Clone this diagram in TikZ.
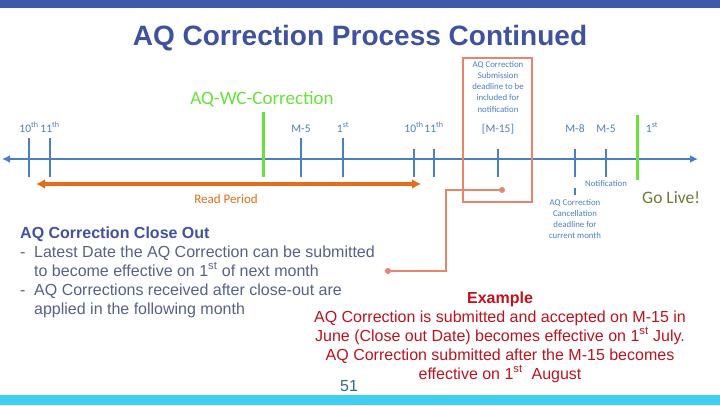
\documentclass[tikz,border=0pt]{standalone}
\usepackage{fontspec}
\setmainfont{Liberation Sans}
\newfontfamily\tlfont{Carlito}
\usetikzlibrary{positioning, arrows.meta}

\definecolor{barblue}{HTML}{3F5AA8}
\definecolor{titleblue}{HTML}{3F52A0}
\definecolor{lineblue}{HTML}{4A7EC8}
\definecolor{wcgreen}{HTML}{66E23A}
\definecolor{readorange}{HTML}{E46C1A}
\definecolor{boxcoral}{HTML}{E8856A}
\definecolor{golive}{HTML}{6E7A32}
\definecolor{bodygrey}{HTML}{55618A}
\definecolor{exred}{HTML}{C0121C}
\definecolor{pagenum}{HTML}{2F6A8A}
\definecolor{cyanbar}{HTML}{40CFF0}

\tikzset{
  tline/.style={draw=lineblue, line width=2.5pt},
  tick/.style={draw=lineblue, line width=2.5pt},
  golivebar/.style={draw=wcgreen, line width=3pt},
  ticklabel/.style={text=lineblue, font=\tlfont\fontsize{11.5}{12}\selectfont, anchor=base, inner sep=0pt},
  smallnote/.style={text=lineblue, font=\tlfont\fontsize{8.8}{11.2}\selectfont, align=center, inner sep=0pt},
  dot/.style={circle, fill=boxcoral, inner sep=0pt, minimum size=6pt},
  conn/.style={draw=boxcoral, line width=1.5pt},
  bodytext/.style={text=bodygrey, font=\fontsize{16}{19}\selectfont, align=left, inner sep=0pt, anchor=base west},
}

\begin{document}
\begin{tikzpicture}[x=1pt, y=-1pt]
    \useasboundingbox (0,0) rectangle (720,405);
    % Balken oben und unten
    \fill[barblue] (0,0) rectangle (720,8);
    \fill[cyanbar] (0,395) rectangle (720,405);

    % Titel
    \node[text=titleblue, font=\bfseries\fontsize{28}{30}\selectfont, anchor=base, inner sep=0pt]
        (title) at (360,45) {AQ Correction Process Continued};

    % Zeitachse
    \draw[tline, {Latex[length=8pt,width=8pt]}-{Latex[length=8pt,width=8pt]}] (2,159) -- (698,159);

    % Striche links
    \foreach \x/\lab/\nm in {29/10\textsuperscript{th}/ten, 50/11\textsuperscript{th}/eleven, 301/M-5/mfive, 343/1\textsuperscript{st}/first} {
        \draw[tick] (\x,138) -- (\x,177);
        \node[ticklabel] (\nm) at (\x,132) {\lab};
    }
    % Striche rechts
    \foreach \x/\lab/\nm in {414/10\textsuperscript{th}/tenb, 434/11\textsuperscript{th}/elevenb, 498/[M-15]/mfifteen, 575/M-8/meight, 606/M-5/mfiveb} {
        \draw[tick] (\x,149) -- (\x,177);
        \node[ticklabel] (\nm) at (\x,132) {\lab};
    }
    \draw[tick] (575,188) -- (575,195);
    \node[ticklabel] (firstb) at (652,132) {1\textsuperscript{st}};

    % gruene Linien
    \draw[golivebar] (263,112) -- (263,177);
    \draw[golivebar] (637,115) -- (637,180);
    \node[text=wcgreen, font=\tlfont\fontsize{19}{22}\selectfont, anchor=base, inner sep=0pt]
        (wccorr) at (262,104) {AQ-WC-Correction};
    \node[text=golive, font=\tlfont\fontsize{17.5}{20}\selectfont, anchor=base west, inner sep=0pt]
        (golive) at (642,203) {Go Live!};

    % Lesezeitraum
    \draw[draw=readorange, line width=3.5pt, {Latex[length=9pt,width=10pt]}-{Latex[length=9pt,width=10pt]}] (36,184) -- (421,184);
    \node[text=readorange, font=\tlfont\fontsize{13}{14}\selectfont, anchor=base, inner sep=0pt]
        (readp) at (226,203) {Read Period};

    % Kasten M-15
    \node[draw=boxcoral, line width=2.5pt, minimum width=69pt, minimum height=144pt, inner sep=0pt]
        (subbox) at (497.5,130) {};
    \node[smallnote, anchor=north] (subnote) at (498,61)
        {AQ Correction\\Submission\\deadline to be\\included for\\notification};

    \node[smallnote, anchor=base] (notif) at (606,186) {Notification};
    \node[smallnote, anchor=north] (cancel) at (575,199)
        {AQ Correction\\Cancellation\\deadline for\\current month};

    % Verbinder
    \node[dot] (boxdot) at (502,190) {};
    \node[dot] (textdot) at (388,271) {};
    \coordinate (bend) at (446,230);
    \draw[conn] (boxdot) -| (bend) |- (textdot);

    % Text links
    \node[text=titleblue, font=\bfseries\fontsize{16}{19}\selectfont, anchor=base west, inner sep=0pt]
        (closeout) at (20,238) {AQ Correction Close Out};
    \node[bodytext] (closetext) at (20,314)
        {\makebox[14pt][l]{-}Latest Date the AQ Correction can be submitted\\
         \makebox[14pt][l]{}to become effective on 1\textsuperscript{st} of next month\\
         \makebox[14pt][l]{-}AQ Corrections received after close-out are\\
         \makebox[14pt][l]{}applied in the following month};

    % Beispiel
    \node[text=exred, font=\bfseries\fontsize{16}{19}\selectfont, anchor=base, inner sep=0pt]
        (exhead) at (500,303) {Example};
    \node[text=exred, font=\fontsize{16}{19}\selectfont, align=center, anchor=base, inner sep=0pt]
        (extext) at (500,379)
        {AQ Correction is submitted and accepted on M-15 in\\
         June (Close out Date) becomes effective on 1\textsuperscript{st} July.\\
         AQ Correction submitted after the M-15 becomes\\
         effective on 1\textsuperscript{st}\ \ August};

    % Seitenzahl
    \node[text=pagenum, font=\fontsize{16}{18}\selectfont, anchor=base, inner sep=0pt]
        (pagenr) at (349,391) {51};
\end{tikzpicture}
\end{document}
